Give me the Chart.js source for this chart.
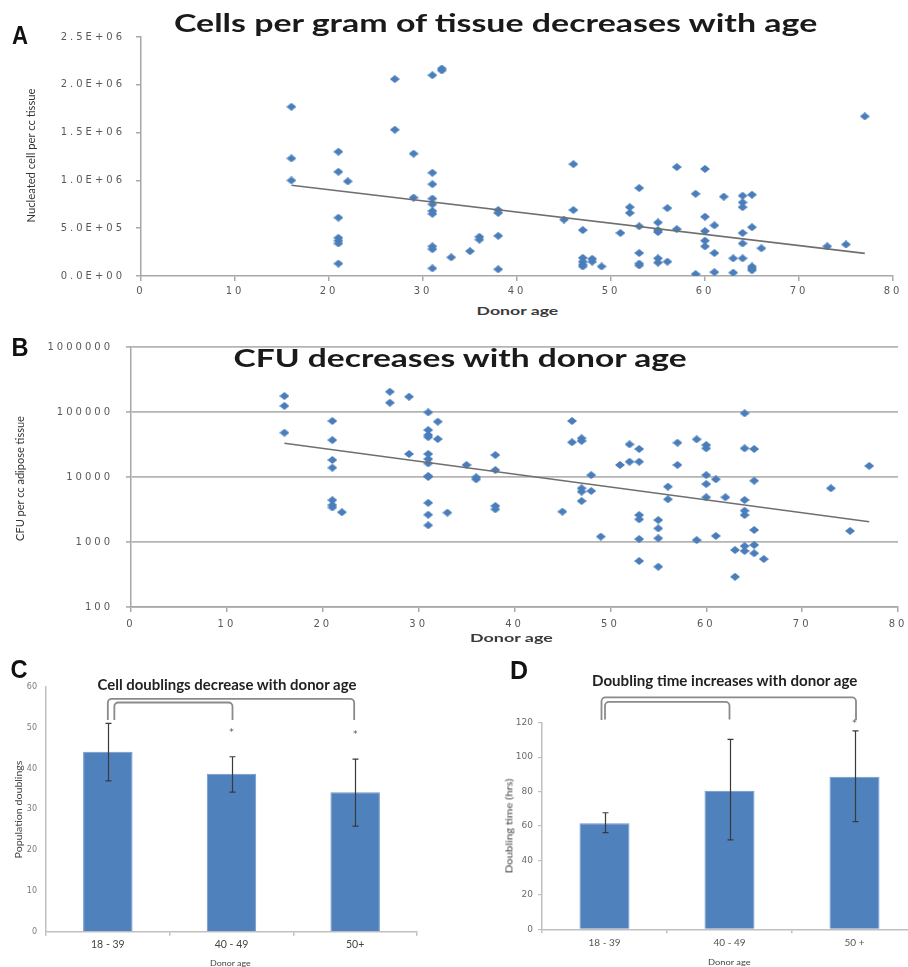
<!DOCTYPE html>
<html><head><meta charset="utf-8">
<script src="https://cdn.jsdelivr.net/npm/chart.js@4.4.1/dist/chart.umd.min.js"></script>
<style>
html,body{margin:0;padding:0;background:#fff;width:908px;height:967px;overflow:hidden;}
#wrap{position:relative;width:908px;height:967px;overflow:hidden;background:#fff;}
canvas{position:absolute;}
.t{position:absolute;white-space:nowrap;line-height:1;transform-origin:center center;}
</style></head><body><div id="wrap">
<canvas id="cA" width="930" height="300" style="left:0;top:0;width:930px;height:300px"></canvas>
<canvas id="cB" width="930" height="320" style="left:0;top:320px;width:930px;height:320px"></canvas>
<canvas id="cC" width="450" height="327" style="left:0;top:640px;width:450px;height:327px"></canvas>
<canvas id="cD" width="470" height="327" style="left:450px;top:640px;width:470px;height:327px"></canvas>
</div>
<script>
// ---------- Panel A: nucleated cells per cc tissue vs donor age ----------
const agesA = [16,16,16, 21,21,21,21,21,21,21, 22, 27,27, 29,29,
  31,31,31,31,31,31,31,31,31,31, 32,32, 33, 35, 36,36, 38,38,38,38, 45, 46,46,
  47,47,47,47,47, 48,48, 49, 51, 52,52, 53,53,53,53,53, 55,55,55,55,55, 56,56, 57,57,
  59,59, 60,60,60,60,60, 61,61,61, 62, 63,63, 64,64,64,64,64,64, 65,65,65,65,65, 66, 73, 75, 77];
const cellsA = [1770000,1230000,1000000, 1300000,1090000,610000,400000,370000,340000,130000, 990000,
  2060000,1530000, 1280000,820000,
  2100000,1080000,960000,810000,750000,680000,650000,310000,280000,80000, 2170000,2150000,
  195000, 260000, 410000,380000, 690000,660000,420000,70000, 590000, 1170000,690000,
  480000,190000,150000,120000,100000, 180000,150000, 100000, 450000, 720000,660000,
  920000,520000,240000,130000,110000, 560000,480000,460000,185000,140000, 710000,150000,
  1140000,490000, 860000,20000, 1120000,620000,470000,370000,310000, 530000,240000,40000,
  830000, 185000,35000, 840000,770000,720000,450000,340000,185000, 850000,510000,100000,80000,60000,
  290000, 310000, 330000, 1670000];
const trendAgeA = [16, 77];
const trendCellsA = [950000, 237000];
const yTicksA = [0, 500000, 1000000, 1500000, 2000000, 2500000];

// ---------- Panel B: CFU per cc adipose tissue vs donor age ----------
const agesB = [16,16,16, 21,21,21,21,21,21,21, 22, 27,27, 29,29,
  31,31,31,31,31,31,31,31,31,31,31,31, 32,32, 33, 35, 36,36, 38,38,38,38, 45, 46,46,
  47,47,47,47,47, 48,48, 49, 51, 52,52, 53,53,53,53,53,53, 55,55,55,55, 56,56, 57,57,
  59,59, 60,60,60,60,60, 61,61, 62, 63,63, 64,64,64,64,64,64,64, 65,65,65,65,65, 66, 73, 75, 77];
const cfuB = [176000,124000,48000, 72800,37000,18300,13900,4400,3700,3400, 2870,
  205000,139000, 172000,22600,
  98800,52800,44300,41000,22600,18900,16200,10400,10000,4000,2630,1810, 71000,38400,
  2830, 15300, 9900,9200, 21800,12800,3580,3190, 2930, 72800,34200,
  39400,35800,6700,5950,4270, 10700,6090, 1210, 15300, 31800,17200,
  27000,17200,2600,2230,1110,511, 2180,1620,1140,417, 7100,4540, 33700,15300,
  38000,1070, 31000,27600,10700,7800,4870, 9230,1240, 4870, 753,292,
  95500,27600,4430,3030,2600,867,728, 27000,8770,1530,900,670, 547, 6700, 1480, 14800];
const trendAgeB = [16, 77];
const trendCfuB = [33000, 2050];
const yTicksB = [100, 1000, 10000, 100000, 1000000];

// ---------- Panel C: population doublings by donor age group ----------
const groupsC = ['18 - 39', '40 - 49', '50+'];
const doublingsC = [44.1, 38.7, 34.2];
const errLowC = [37.0, 34.2, 25.9];
const errHighC = [51.1, 42.9, 42.3];
const starGroupsC = [1, 2];
const starValuesC = [49.2, 48.8];

// ---------- Panel D: doubling time (hrs) by donor age group ----------
const groupsD = ['18 - 39', '40 - 49', '50 +'];
const doublingTimeD = [61.6, 80.5, 88.6];
const errLowD = [56.1, 51.9, 62.5];
const errHighD = [67.7, 110.3, 115.3];
const starGroupsD = [2];
const starValuesD = [120.5];

// significance brackets (annotation geometry in data units)
const bracketsC = [
  {from:0, to:2, top:57.1, drop:51.9, dx1:0, dx2:-1},
  {from:0, to:1, top:56.2, drop:51.9, dx1:6.5, dx2:1}
];
const bracketsD = [
  {from:0, to:2, top:134.7, drop:121.5, dx1:-3, dx2:1.5},
  {from:0, to:1, top:132.1, drop:121.9, dx1:0.5, dx2:0}
];

// ---------- helpers ----------
const pts = (xs, ys) => xs.map((x, i) => ({x, y: ys[i]}));
function sci(v){
  const [m, e] = Number(v).toExponential(1).split('e');
  const s = e[0] === '-' ? '-' : '+';
  return m + 'E' + s + e.replace(/[+-]/, '').padStart(2, '0');
}
function diamondImg(){
  const c = document.createElement('canvas');
  c.width = 10; c.height = 8;
  const g = c.getContext('2d');
  g.fillStyle = '#4a7ebb';
  g.beginPath(); g.moveTo(5,0); g.lineTo(10,4); g.lineTo(5,8); g.lineTo(0,4); g.closePath(); g.fill();
  return c;
}
const diamond = diamondImg();
const spacing = px => ({id:'spacing', beforeDraw(c){ c.ctx.letterSpacing = px; }});
const errPlugin = (low, high) => ({
  id:'errbars',
  afterDatasetsDraw(chart){
    const ctx = chart.ctx, y = chart.scales.y, meta = chart.getDatasetMeta(0);
    ctx.save(); ctx.strokeStyle = '#3a3a3a'; ctx.lineWidth = 1.2;
    meta.data.forEach((bar, i) => {
      const x = Math.round(bar.x) + 0.5, yl = y.getPixelForValue(low[i]), yh = y.getPixelForValue(high[i]);
      ctx.beginPath();
      ctx.moveTo(x, yl); ctx.lineTo(x, yh);
      ctx.moveTo(x-3, yl); ctx.lineTo(x+3, yl);
      ctx.moveTo(x-3, yh); ctx.lineTo(x+3, yh);
      ctx.stroke();
    });
    ctx.restore();
  }
});
const bracketPlugin = (brs, idx, vals) => ({
  id:'brackets',
  afterDraw(chart){
    const ctx = chart.ctx, xs = chart.scales.x, ys = chart.scales.y;
    ctx.save(); ctx.strokeStyle = '#8a8a8a'; ctx.lineWidth = 1.8; ctx.lineJoin = 'round';
    brs.forEach(b => {
      const x1 = xs.getPixelForValue(b.from) + b.dx1, x2 = xs.getPixelForValue(b.to) + b.dx2;
      const yt = ys.getPixelForValue(b.top), yb = ys.getPixelForValue(b.drop);
      ctx.beginPath();
      ctx.moveTo(x1, yb); ctx.arcTo(x1, yt, x2, yt, 4); ctx.arcTo(x2, yt, x2, yb, 4); ctx.lineTo(x2, yb);
      ctx.stroke();
    });
    ctx.fillStyle = '#555'; ctx.font = '9px "DejaVu Sans"'; ctx.textAlign = 'center'; ctx.textBaseline = 'middle';
    idx.forEach((g, i) => ctx.fillText('*', xs.getPixelForValue(g), ys.getPixelForValue(vals[i]) + 2));
    ctx.restore();
  }
});

const tickFontAB = {family:'DejaVu Sans', size:10};
const axisGray = '#a8a8a8';
const common = {responsive:false, animation:false, events:[],
  plugins:{legend:{display:false}, tooltip:{enabled:false}, title:{display:false}}};

// ---------- Chart A ----------
new Chart(document.getElementById('cA'), {
  type:'scatter',
  data:{datasets:[
    {data: pts(trendAgeA, trendCellsA), showLine:true, pointRadius:0, borderColor:'#6f6f6f', borderWidth:1.6, order:0},
    {data: pts(agesA, cellsA), pointStyle: diamond, pointRadius:5, order:1}
  ]},
  options:{...common,
    layout:{padding:{top:37, right:37, left:0, bottom:0}},
    scales:{
      x:{type:'linear', min:0, max:80,
        ticks:{stepSize:10, font:tickFontAB, color:'#595959', padding:4},
        grid:{drawOnChartArea:false, tickLength:5, color:axisGray, lineWidth:1.5},
        border:{color:axisGray, width:1.5}, afterFit:s => { s.height = 24; }},
      y:{type:'linear', min:0, max:2500000,
        afterBuildTicks:s => { s.ticks = yTicksA.map(v => ({value:v})); },
        ticks:{callback:v => sci(v), font:tickFontAB, color:'#595959', padding:11},
        grid:{drawOnChartArea:false, tickLength:5, color:axisGray, lineWidth:1.5},
        border:{color:axisGray, width:1.5}, afterFit:s => { s.width = 141; }}
    }
  },
  plugins:[spacing('3px')]
});

// ---------- Chart B ----------
new Chart(document.getElementById('cB'), {
  type:'scatter',
  data:{datasets:[
    {data: pts(trendAgeB, trendCfuB), showLine:true, pointRadius:0, borderColor:'#6f6f6f', borderWidth:1.6, order:0},
    {data: pts(agesB, cfuB), pointStyle: diamond, pointRadius:5, order:1}
  ]},
  options:{...common,
    layout:{padding:{top:27, right:32, left:0, bottom:0}},
    scales:{
      x:{type:'linear', min:0, max:80,
        ticks:{stepSize:10, font:tickFontAB, color:'#595959', padding:6},
        grid:{drawOnChartArea:false, tickLength:5, color:axisGray, lineWidth:1.5},
        border:{color:axisGray, width:1.5}, afterFit:s => { s.height = 33; }},
      y:{type:'logarithmic', min:100, max:1000000,
        afterBuildTicks:s => { s.ticks = yTicksB.map(v => ({value:v})); },
        ticks:{callback:v => String(v), font:tickFontAB, color:'#595959', padding:13},
        grid:{color:'#b4b4b4', lineWidth:1.8, tickLength:5},
        border:{color:axisGray, width:1.5}, afterFit:s => { s.width = 131; }}
    }
  },
  plugins:[spacing('3px')]
});

// ---------- Chart C ----------
const barColor = '#4f81bd';
new Chart(document.getElementById('cC'), {
  type:'bar',
  data:{labels: groupsC, datasets:[{data: doublingsC, backgroundColor: barColor, borderColor:'#7196c8', borderWidth:1,
    barPercentage:0.4, categoryPercentage:1}]},
  options:{...common,
    layout:{padding:{top:47, right:33, left:0, bottom:0}},
    scales:{
      x:{grid:{drawOnChartArea:false, tickLength:4, color:'#c0c0c0', lineWidth:1.5, offset:true},
        border:{color:'#c0c0c0', width:1.5},
        ticks:{font:{family:'Lato', size:10.5}, color:'#444', padding:3}, afterFit:s => { s.height = 35.3; }},
      y:{min:0, max:60, ticks:{stepSize:10, font:{family:'DejaVu Sans', size:8}, color:'#7a7a7a', padding:9},
        grid:{drawOnChartArea:false, drawTicks:false},
        border:{color:'#c0c0c0', width:1.5}, afterFit:s => { s.width = 46; }}
    }
  },
  plugins:[errPlugin(errLowC, errHighC), bracketPlugin(bracketsC, starGroupsC, starValuesC)]
});

// ---------- Chart D ----------
new Chart(document.getElementById('cD'), {
  type:'bar',
  data:{labels: groupsD, datasets:[{data: doublingTimeD, backgroundColor: barColor, borderColor:'#7196c8', borderWidth:1,
    barPercentage:0.4, categoryPercentage:1}]},
  options:{...common,
    layout:{padding:{top:82.7, right:3, left:0, bottom:0}},
    scales:{
      x:{grid:{drawOnChartArea:false, tickLength:4, color:'#c0c0c0', lineWidth:1.5, offset:true},
        border:{color:'#c0c0c0', width:1.5},
        ticks:{font:{family:'Lato', size:10}, color:'#555', padding:3}, afterFit:s => { s.height = 37.7; }},
      y:{min:0, max:120, ticks:{stepSize:20, font:{family:'DejaVu Sans', size:9}, color:'#6a6a6a', padding:5},
        grid:{drawOnChartArea:false, tickLength:4, color:'#c0c0c0', lineWidth:1.2},
        border:{color:'#c0c0c0', width:1.5}, afterFit:s => { s.width = 92; }}
    }
  },
  plugins:[errPlugin(errLowD, errHighD), bracketPlugin(bracketsD, starGroupsD, starValuesD)]
});

// ---------- HTML text (titles, axis titles, panel letters) ----------
const wrap = document.getElementById('wrap');
function label(text, cx, cy, o){
  const d = document.createElement('div');
  d.className = 't'; d.textContent = text;
  d.style.font = o.font; d.style.color = o.color || '#222';
  wrap.appendChild(d);
  const w = d.offsetWidth, h = d.offsetHeight;
  const k = o.width ? o.width / w : 1;
  d.style.left = (cx - w / 2) + 'px';
  d.style.top = (cy - h / 2) + 'px';
  d.style.transform = (o.rotate ? 'rotate(-90deg) ' : '') + 'scaleX(' + k + ')';
}
label('A', 20, 35, {font:'bold 25px "Liberation Sans"', width:16, color:'#111'});
label('Cells per gram of tissue decreases with age', 495, 22, {font:'bold 24px Lato', width:643, color:'#1a1a1a'});
label('Nucleated cell per cc tissue', 30, 155, {font:'12px Lato', width:134, rotate:true, color:'#333'});
label('Donor age', 517, 310, {font:'bold 11px Lato', width:82, color:'#3a3a3a'});

label('B', 20, 347, {font:'bold 25px "Liberation Sans"', width:17, color:'#111'});
label('CFU decreases with donor age', 460, 357, {font:'bold 24px Lato', width:453, color:'#1a1a1a'});
label('CFU per cc adipose tissue', 20, 478, {font:'12px Lato', width:125, rotate:true, color:'#333'});
label('Donor age', 511, 637, {font:'bold 11px Lato', width:83, color:'#3a3a3a'});

label('C', 19, 669, {font:'bold 25px "Liberation Sans"', width:17, color:'#111'});
label('Cell doublings  decrease with donor age', 226.5, 684, {font:'bold 15px Lato', width:259, color:'#222'});
label('Population doublings', 18, 809, {font:'9px Lato', width:98, rotate:true, color:'#444'});
label('Donor age', 230, 963, {font:'8px Lato', width:41, color:'#444'});

label('D', 519, 670, {font:'bold 25px "Liberation Sans"', width:18, color:'#111'});
label('Doubling time increases with donor age', 724, 680, {font:'bold 15px Lato', width:265, color:'#222'});
label('Doubling time (hrs)', 509, 826, {font:'8.5px Lato', width:95, rotate:true, color:'#444'});
label('Donor age', 729, 962, {font:'8px Lato', width:43, color:'#444'});
</script></body></html>
